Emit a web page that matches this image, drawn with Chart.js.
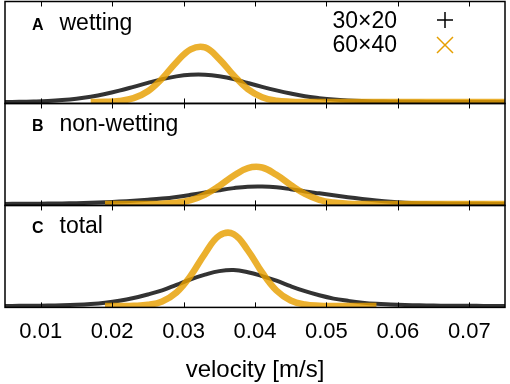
<!DOCTYPE html>
<html>
<head>
<meta charset="utf-8">
<script src="https://cdn.jsdelivr.net/npm/chart.js@4.4.1/dist/chart.umd.min.js"></script>
<style>
  body { margin: 0; background: #fff; }
</style>
</head>
<body>
<canvas id="velocityChart" width="510" height="384"></canvas>
<script>
// Velocity grid (m/s), shared by every series
const velocity = [0.005, 0.007, 0.009, 0.011, 0.013, 0.015, 0.017, 0.019, 0.021, 0.023, 0.025, 0.027,
                  0.029, 0.031, 0.033, 0.035, 0.037, 0.039, 0.041, 0.043, 0.045, 0.047, 0.049, 0.051,
                  0.053, 0.055, 0.057, 0.059, 0.061, 0.063, 0.065, 0.067, 0.069, 0.071, 0.073, 0.075];
const tickValues = [0.01, 0.02, 0.03, 0.04, 0.05, 0.06, 0.07];

const panelLetters = ['A', 'B', 'C'];
const panelNames = ['wetting', 'non-wetting', 'total'];
const seriesNames = ['30×20', '60×40'];

// A - wetting
const wetting30 = [0.3, 0.5, 1.1, 2.0, 3.6, 6.1, 9.8, 14.7, 20.8, 27.8, 35.0, 41.7,
                   46.8, 49.6, 49.7, 47.0, 42.1, 34.8, 27.8, 21.3, 15.5, 10.5, 7.2, 4.6,
                   2.9, 1.8, 1.2, 0.8, 0.5, 0.4, 0.3, 0.2, 0.1, 0.1, 0.1, 0.1];
const wetting60 = [null, null, null, null, null, null, 0.1, 0.4, 2.0, 7.1, 19.8, 43.0,
                   72.6, 96.0, 99.5, 78.3, 48.7, 23.6, 8.9, 2.6, 0.6, 0.1, 0, 0,
                   0, 0, 0, 0, 0, 0, 0, 0, 0, 0, 0, 0];
// B - non-wetting
const nonWetting30 = [0.3, 0.4, 0.6, 0.8, 1.1, 1.7, 2.4, 3.4, 4.6, 6.0, 7.8, 10.0,
                      13.0, 16.8, 21.0, 25.3, 29.0, 31.6, 32.0, 30.5, 27.0, 23.0, 19.5, 16.0,
                      12.5, 9.3, 6.5, 4.2, 2.6, 1.6, 1.0, 0.7, 0.5, 0.4, 0.3, 0.2];
const nonWetting60 = [null, null, null, null, null, null, null, 0, 0, 0, 0.1, 0.6,
                      2.4, 7.1, 17.1, 33.0, 51.4, 65.5, 66.5, 53.2, 34.8, 18.4, 7.8, 2.7,
                      0.7, 0.2, 0, 0, 0, 0, 0, 0, 0, 0, 0, 0];
// C - total
const total30 = [0.2, 0.3, 0.5, 0.8, 1.3, 2.2, 3.7, 6.0, 9.5, 14.5, 21.0, 28.5,
                 38.5, 48.5, 57.0, 63.5, 65.5, 61.5, 54.5, 46.0, 36.0, 27.0, 19.5, 13.5,
                 9.5, 6.2, 4.0, 2.8, 1.8, 1.2, 0.8, 0.5, 0.4, 0.3, 0.2, 0.2];
const total60 = [null, null, null, null, null, null, null, 0, 0.1, 0.5, 2.2, 8.4,
                 24.6, 55.3, 95.5, 128.0, 131.0, 101.3, 61.0, 28.3, 10.1, 2.8, 0.6, 0.1,
                 0, 0, 0, null, null, null, null, null, null, null, null, null];

const black = 'rgba(0, 0, 0, 0.8)';
const orange = 'rgba(230, 159, 0, 0.82)';
const font = '"Liberation Sans", Arial, sans-serif';

function points(values) {
    return velocity.map((v, i) => ({ x: v, y: values[i] }));
}

function series(label, values, axis, color, width, order) {
    return {
        label: label,
        data: points(values),
        yAxisID: axis,
        borderColor: color,
        borderWidth: width,
        pointRadius: 0,
        tension: 0.4,
        spanGaps: false,
        order: order
    };
}

// the three panels are stacked y axes sharing the x axis
function panelAxis(weight) {
    return {
        type: 'linear',
        position: 'left',
        stack: 'panels',
        stackWeight: 1,
        weight: weight,
        min: -2.5,
        max: 183,
        ticks: { display: false },
        grid: { display: false, drawTicks: false },
        border: { display: false }
    };
}

// Frame, inward ticks, panel labels and key
const framePlugin = {
    id: 'frame',
    afterDatasetsDraw(chart) {
        const { ctx, chartArea: a, scales } = chart;
        const x = scales.x;
        ctx.save();
        ctx.strokeStyle = '#000';
        ctx.fillStyle = '#000';
        ['yA', 'yB', 'yC'].forEach((id, i) => {
            const s = scales[id];
            ctx.lineWidth = 1.5;
            ctx.strokeRect(a.left, s.top, a.right - a.left, s.bottom - s.top);
            ctx.beginPath();
            tickValues.forEach(v => {
                const px = Math.round(x.getPixelForValue(v)) + 0.5;
                ctx.moveTo(px, s.top);
                ctx.lineTo(px, s.top + 5);
                ctx.moveTo(px, s.bottom);
                ctx.lineTo(px, s.bottom - 5);
            });
            ctx.lineWidth = 1;
            ctx.stroke();
            ctx.textBaseline = 'alphabetic';
            ctx.textAlign = 'left';
            ctx.font = 'bold 16px ' + font;
            ctx.fillText(panelLetters[i], a.left + 27, s.top + 28);
            ctx.font = '23px ' + font;
            ctx.fillText(panelNames[i], a.left + 54.5, s.top + 28);
        });

        // key
        ctx.font = '23px ' + font;
        ctx.textAlign = 'right';
        ctx.fillText(seriesNames[0], 397, 27.5);
        ctx.fillText(seriesNames[1], 397, 52);
        ctx.lineWidth = 1.5;
        ctx.strokeStyle = '#000';
        ctx.beginPath();
        ctx.moveTo(437, 20); ctx.lineTo(453, 20);
        ctx.moveTo(445, 12); ctx.lineTo(445, 28);
        ctx.stroke();
        ctx.strokeStyle = 'rgb(230, 159, 0)';
        ctx.beginPath();
        ctx.moveTo(437, 37); ctx.lineTo(453, 53);
        ctx.moveTo(453, 37); ctx.lineTo(437, 53);
        ctx.stroke();
        ctx.restore();
    }
};

const ctxVelocity = document.getElementById('velocityChart').getContext('2d');

const velocityChart = new Chart(ctxVelocity, {
    type: 'line',
    data: {
        datasets: [
            series(seriesNames[0], wetting30, 'yA', black, 4, 2),
            series(seriesNames[1], wetting60, 'yA', orange, 6.5, 1),
            series(seriesNames[0], nonWetting30, 'yB', black, 4, 2),
            series(seriesNames[1], nonWetting60, 'yB', orange, 6.5, 1),
            series(seriesNames[0], total30, 'yC', black, 4, 2),
            series(seriesNames[1], total60, 'yC', orange, 6.5, 1)
        ]
    },
    options: {
        responsive: false,
        animation: false,
        layout: { padding: { left: 5, right: 5, top: 1.5, bottom: 0 } },
        plugins: {
            legend: { display: false },
            tooltip: { enabled: false }
        },
        scales: {
            x: {
                type: 'linear',
                min: 0.005,
                max: 0.075,
                afterBuildTicks: scale => { scale.ticks = tickValues.map(v => ({ value: v })); },
                ticks: {
                    color: '#000',
                    font: { family: font, size: 22 },
                    padding: 11.3,
                    maxRotation: 0,
                    autoSkip: false,
                    callback: v => v.toFixed(2)
                },
                grid: { display: false, drawTicks: false },
                border: { display: false },
                title: {
                    display: true,
                    text: 'velocity [m/s]',
                    color: '#000',
                    font: { family: font, size: 24, lineHeight: 0.9 },
                    padding: { top: 3, bottom: 3 }
                }
            },
            yA: panelAxis(3),
            yB: panelAxis(2),
            yC: panelAxis(1)
        }
    },
    plugins: [framePlugin]
});
</script>
</body>
</html>
